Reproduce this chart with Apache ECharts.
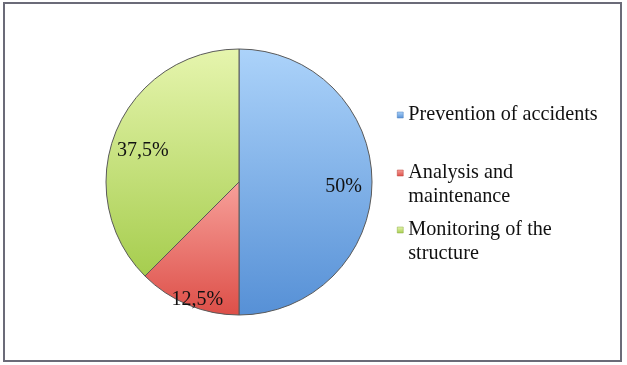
<!DOCTYPE html>
<html><head><meta charset="utf-8">
<script src="https://cdn.jsdelivr.net/npm/echarts@6/dist/echarts.min.js"></script>
<style>html,body{margin:0;padding:0;background:#fff}#c{width:627px;height:365px}</style>
</head><body><div id="c"></div>
<script>
var categories = ['Prevention of accidents', 'Analysis and\nmaintenance', 'Monitoring of the\nstructure'];
var values = [50, 12.5, 37.5];
var valueLabels = ['50%', '12,5%', '37,5%'];

var gradTop = ['#acd3fa', '#f7a09a', '#e6f5ae'];
var gradBot = ['#5690d6', '#dd4f48', '#a6cd4e'];
var edge = ['#4a7fbf', '#b8403a', '#8aaa40'];
var labelDx = [35, -15, -32];
var labelDy = [5, 54, -5];
function grad(i){
  return new echarts.graphic.LinearGradient(0,0,0,1,[{offset:0,color:gradTop[i]},{offset:1,color:gradBot[i]}]);
}
var chart = echarts.init(document.getElementById('c'), null, {renderer:'canvas'});
var data = categories.map(function(n,i){
  return {name:n, value:values[i],
    itemStyle:{color:grad(i), borderColor:'#5a5a5a', borderWidth:1},
    label:{formatter:valueLabels[i]}};
});
var legendTops = [103, 137, 194];
var legends = categories.map(function(n,i){
  return {
    data:[{name:n, itemStyle:{color:grad(i), borderColor:edge[i], borderWidth:0.5}}],
    left:397, top:legendTops[i], orient:'vertical', icon:'rect', itemWidth:6, itemHeight:6,
    itemGap:0, selectedMode:false, padding:0,
    formatter: function(name){ return name.indexOf('\n') >= 0 ? ' \n' + name : name; },
    textStyle:{fontFamily:'Liberation Serif', fontSize:20.2, color:'#111', lineHeight:24}
  };
});
chart.setOption({
  animation:false,
  backgroundColor:'#fff',
  graphic:[{type:'rect', shape:{x:4,y:3,width:617,height:358},
    style:{fill:'none', stroke:'#6b6b78', lineWidth:2}}],
  legend: legends,
  series:[{
    type:'pie', center:[239,182], radius:133, startAngle:90, clockwise:true,
    data:data,
    label:{position:'inside', fontFamily:'Liberation Serif', fontSize:20, color:'#111'},
    labelLine:{show:false},
    labelLayout:function(p){ return {dx:labelDx[p.dataIndex], dy:labelDy[p.dataIndex]}; },
    emphasis:{disabled:true}
  }]
});
</script></body></html>
